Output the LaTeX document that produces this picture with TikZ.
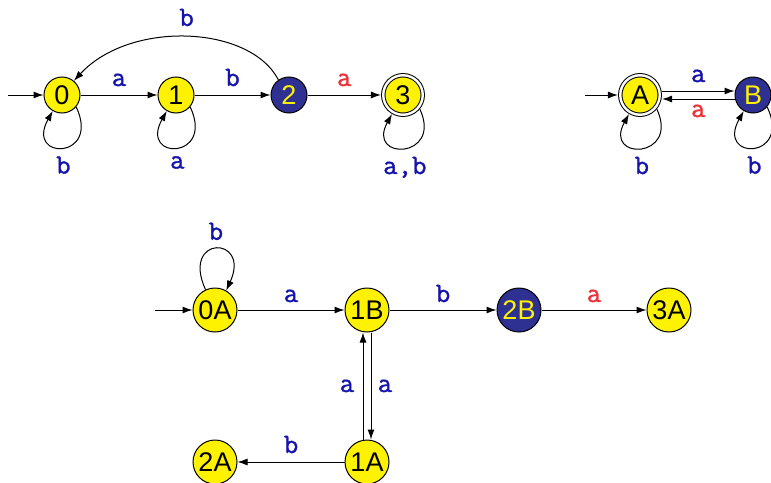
\documentclass[tikz,border=0pt]{standalone}
\usepackage{fontspec}
\usetikzlibrary{arrows.meta}
\newfontfamily\nodefont{Liberation Sans}
\newfontfamily\labfont[FakeBold=1.2]{Latin Modern Mono}
\definecolor{stY}{RGB}{255,242,0}
\definecolor{stB}{RGB}{46,49,146}
\definecolor{labB}{RGB}{20,20,170}
\definecolor{labR}{RGB}{237,50,55}
\tikzset{
  st/.style={circle, draw=black, line width=1pt, fill=stY, inner sep=0pt,
    minimum size=36pt, font=\nodefont\fontsize{27}{30}\selectfont, text=black},
  stdark/.style={st, fill=stB, text=stY},
  acc/.style={st, double, double distance=2.4pt, minimum size=39.5pt, outer sep=2.3pt},
  big/.style={minimum size=44pt},
  edge/.style={line width=1pt, -{Latex[length=10pt,width=7pt]}},
  lab/.style={font=\labfont\fontsize{28}{30}\selectfont, text=labB, anchor=base, inner sep=0pt},
  labr/.style={lab, text=labR},
}
\begin{document}
\begin{tikzpicture}[x=1pt,y=1pt]
\useasboundingbox (0,0) rectangle (771,-482);
% top left automaton
\node[st] (n0) at (62,-95) {0};
\node[st] (n1) at (176,-95) {1};
\node[stdark] (n2) at (289,-95) {2};
\node[acc] (n3) at (403,-95) {3};
\coordinate (i0) at (8,-95);
\draw[edge] (i0) -- (n0);
\draw[edge] (n0) -- node[lab, yshift=9pt] {a} (n1);
\draw[edge] (n1) -- node[lab, yshift=9pt] {b} (n2);
\draw[edge] (n2) -- node[labr, yshift=9pt] {a} (n3);
\draw[edge] (n2.125) .. controls (250,-25) and (130,-20) .. node[lab, pos=.5, yshift=11pt] {b} (n0.50);
\draw[edge] (n0.-40) .. controls +(25,-53) and +(-28,-50) .. node[lab, pos=.5, yshift=-26pt] {b} (n0.-120);
\draw[edge] (n1.-40) .. controls +(25,-53) and +(-28,-50) .. node[lab, pos=.5, yshift=-21pt] {a} (n1.-120);
\draw[edge] (n3.-40) .. controls +(23,-50) and +(-26,-47) .. node[lab, pos=.5, yshift=-26pt] {a,b} (n3.-120);
% top right automaton
\node[acc] (nA) at (640,-95) {A};
\node[stdark] (nB) at (753,-95) {B};
\coordinate (iA) at (585,-95);
\draw[edge] (iA) -- (nA);
\draw[edge] ([yshift=4pt]nA.east) -- node[lab, yshift=9pt] {a} ([yshift=4pt]nB.west);
\draw[edge] ([yshift=-4pt]nB.west) -- node[labr, yshift=-18pt] {a} ([yshift=-4pt]nA.east);
\draw[edge] (nA.-40) .. controls +(23,-50) and +(-26,-47) .. node[lab, pos=.5, yshift=-26pt] {b} (nA.-120);
\draw[edge] (nB.-40) .. controls +(25,-53) and +(-28,-50) .. node[lab, pos=.5, yshift=-26pt] {b} (nB.-120);
% product automaton
\node[st, big] (p0A) at (215,-310) {0A};
\node[st, big] (p1B) at (367,-310) {1B};
\node[stdark, big] (p2B) at (519,-310) {2B};
\node[st, big] (p3A) at (669,-310) {3A};
\node[st, big] (p2A) at (215,-462) {2A};
\node[st, big] (p1A) at (367,-462) {1A};
\coordinate (ip) at (155,-310);
\draw[edge] (ip) -- (p0A);
\draw[edge] (p0A.115) .. controls +(-25,55) and +(25,55) .. node[lab, pos=.5, yshift=9pt] {b} (p0A.60);
\draw[edge] (p0A) -- node[lab, yshift=8pt] {a} (p1B);
\draw[edge] (p1B) -- node[lab, yshift=8pt] {b} (p2B);
\draw[edge] (p2B) -- node[labr, yshift=8pt] {a} (p3A);
\draw[edge] ([xshift=-4pt]p1A.north) -- node[lab, xshift=-16pt, yshift=-6pt] {a} ([xshift=-4pt]p1B.south);
\draw[edge] ([xshift=4pt]p1B.south) -- node[lab, xshift=14pt, yshift=-6pt] {a} ([xshift=4pt]p1A.north);
\draw[edge] (p1A) -- node[lab, yshift=9pt] {b} (p2A);
\end{tikzpicture}
\end{document}
